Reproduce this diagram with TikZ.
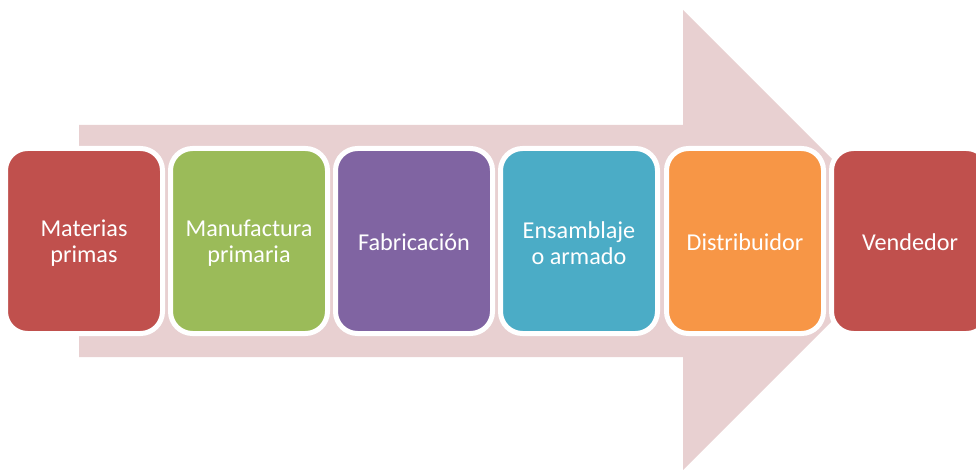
\documentclass[tikz,border=0pt]{standalone}
\usepackage{fontspec}
\setmainfont{Carlito}
\begin{document}
\begin{tikzpicture}[x=1pt,y=-1pt,
  stage/.style={draw=white, line width=5pt, rounded corners=22pt,
    minimum width=157pt, minimum height=185pt, inner sep=0pt},
  label text/.style={text=white, align=center,
    font=\fontsize{24.2}{26.5}\selectfont, inner sep=0pt},
]
\useasboundingbox (0,0) rectangle (976,470);
\clip (0,0) rectangle (976,470);
\definecolor{arrowbg}{RGB}{232,208,209}
\definecolor{cred}{RGB}{192,80,77}
\definecolor{cgreen}{RGB}{155,187,89}
\definecolor{cpurple}{RGB}{128,100,162}
\definecolor{cteal}{RGB}{75,172,198}
\definecolor{corange}{RGB}{247,150,70}
% background arrow
\fill[arrowbg] (79,125) -- (683,125) -- (683,10) -- (913,240) -- (683,470)
  -- (683,357) -- (79,357) -- cycle;
% process stages
\node[stage, fill=cred]    (s1) at (84,241)  {};
\node[stage, fill=cgreen]  (s2) at (249,241) {};
\node[stage, fill=cpurple] (s3) at (414,241) {};
\node[stage, fill=cteal]   (s4) at (579,241) {};
\node[stage, fill=corange] (s5) at (745,241) {};
\node[stage, fill=cred]    (s6) at (910,241) {};
% stage labels
\node[label text] (t1) at ([yshift=-2pt]s1.center) {Materias\\primas};
\node[label text] (t2) at ([yshift=-2pt]s2.center) {Manufactura\\primaria};
\node[label text] (t3) at ([yshift=-1pt]s3.center) {Fabricación};
\node[label text] (t4) at ([yshift=-2pt]s4.center) {Ensamblaje\\o armado};
\node[label text] (t5) at ([yshift=-1pt]s5.center) {Distribuidor};
\node[label text] (t6) at ([yshift=-1pt]s6.center) {Vendedor};
\end{tikzpicture}
\end{document}
